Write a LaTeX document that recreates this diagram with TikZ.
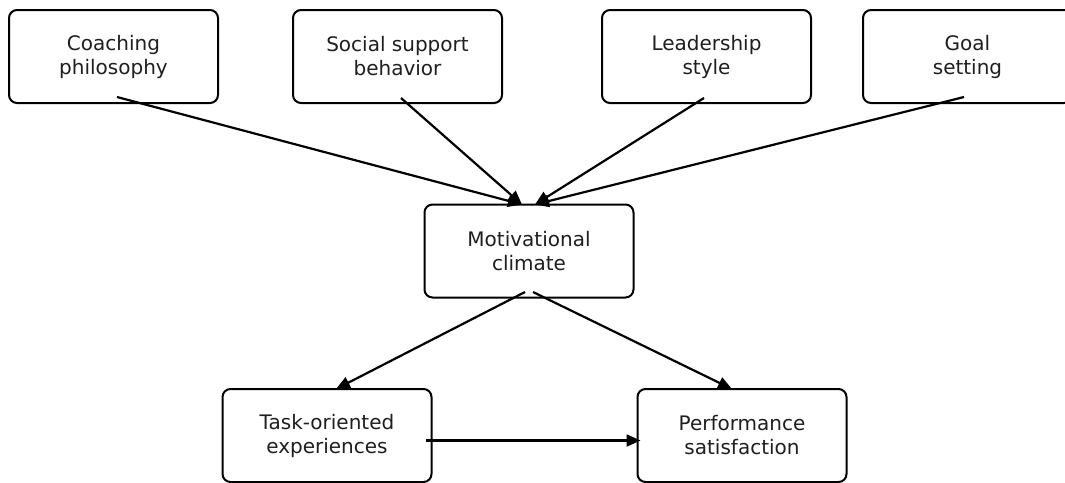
\documentclass[tikz,border=0pt]{standalone}
\usepackage{fontspec}
\setmainfont{DejaVu Sans}
\usetikzlibrary{arrows.meta,calc}
\begin{document}
\begin{tikzpicture}[x=1pt,y=-1pt,
  box/.style={draw=black,line width=2pt,rounded corners=8pt,fill=white,
    minimum width=209pt,minimum height=93pt,inner sep=0pt,align=center,
    text=black!88,font=\fontsize{20}{24}\selectfont},
  link/.style={line width=2.2pt,draw=black,
    -{Triangle[length=14pt,width=12pt]}}]
\clip (0,0) rectangle (1065,482);
\useasboundingbox (0,0) rectangle (1065,482);

% influences on the climate
\node[box] (coach) at (113.5,56.5) {Coaching\\philosophy};
\node[box] (social) at (397.5,56.5) {Social support\\behavior};
\node[box] (lead) at (706.5,56.5) {Leadership\\style};
\node[box] (goal) at (967.5,56.5) {Goal\\setting};

% central node
\node[box] (climate) at (529,251) {Motivational\\climate};

% outcomes
\node[box] (task) at (327,435.5) {Task-oriented\\experiences};
\node[box] (perf) at (742,435.5) {Performance\\satisfaction};

% arrow anchors inside the boxes
\coordinate (coachOut) at ($(coach.center)+(3.5,40.5)$);
\coordinate (socialOut) at ($(social.center)+(3.5,41.5)$);
\coordinate (leadOut) at ($(lead.center)+(-2.5,41.5)$);
\coordinate (goalOut) at ($(goal.center)+(-3.5,40.5)$);
\coordinate (climInL) at ($(climate.north)+(-7,1)$);
\coordinate (climInR) at ($(climate.north)+(6,1)$);
\coordinate (climOutL) at ($(climate.center)+(-4,41)$);
\coordinate (climOutR) at ($(climate.center)+(4,41)$);
\coordinate (taskIn) at ($(task.north)+(9,1)$);
\coordinate (perfIn) at ($(perf.north)+(-10,1)$);
\coordinate (taskOut) at ($(task.center)+(99,5)$);
\coordinate (perfIn2) at ($(perf.west)+(4,5)$);

\draw[link] (coachOut) -- (climInL);
\draw[link] (socialOut) -- (climInL);
\draw[link] (leadOut) -- (climInR);
\draw[link] (goalOut) -- (climInR);
\draw[link] (climOutL) -- (taskIn);
\draw[link] (climOutR) -- (perfIn);
\draw[link] (taskOut) -- (perfIn2);
\end{tikzpicture}
\end{document}
